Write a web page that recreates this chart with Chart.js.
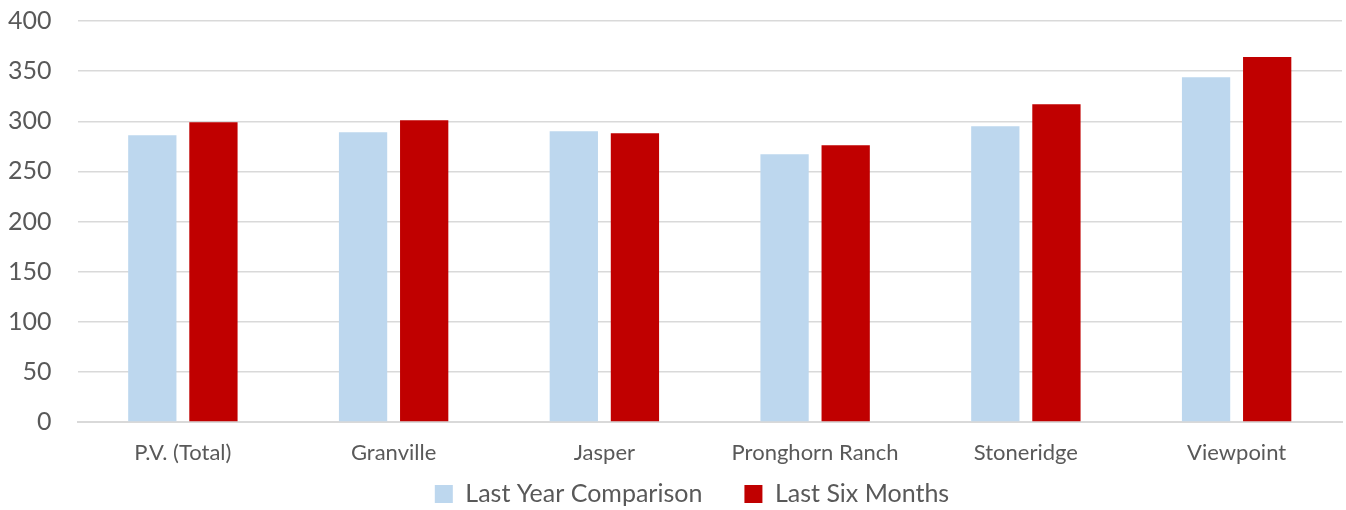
<!DOCTYPE html>
<html>
<head>
<meta charset="utf-8">
<script src="https://cdn.jsdelivr.net/npm/chart.js@4"></script>
<style>
  html, body { margin: 0; padding: 0; background: #fff; }
  #wrap { width: 1346px; height: 510px; }
</style>
</head>
<body>
<div id="wrap"><canvas id="salesChart"></canvas></div>
<script>
const labels = ["P.V. (Total)", "Granville", "Jasper", "Pronghorn Ranch", "Stoneridge", "Viewpoint"];
const lastYear = [286, 289, 290, 267, 295, 344];
const lastSix = [299, 301, 288, 276, 317, 364];

const textColor = "#595959";
const gridColor = "#d9d9d9";

// legend padding is wide for the gap between items, so pull it back up when drawn
const legendShift = {
  id: "legendShift",
  beforeInit(chart) {
    const legend = chart.legend;
    const origDraw = legend.draw;
    legend.draw = function () {
      const c = this.ctx;
      c.save();
      c.translate(17, -45);
      origDraw.apply(this, arguments);
      c.restore();
    };
  },
};

var ctx = document.getElementById("salesChart");
var salesChart = new Chart(ctx, {
  type: "bar",
  data: {
    labels: labels,
    datasets: [
      {
        label: "Last Year Comparison",
        data: lastYear,
        backgroundColor: "#bdd7ee",
        categoryPercentage: 0.58,
        barPercentage: 0.79,
      },
      {
        label: "Last Six Months",
        data: lastSix,
        backgroundColor: "#c00000",
        categoryPercentage: 0.58,
        barPercentage: 0.79,
      },
    ],
  },
  plugins: [legendShift],
  options: {
    responsive: true,
    maintainAspectRatio: false,
    animation: false,
    layout: { padding: { left: 8, right: 4, top: 21, bottom: -51.4 } },
    plugins: {
      legend: {
        position: "bottom",
        labels: {
          color: textColor,
          font: { family: "Lato", size: 25 },
          boxWidth: 18,
          boxHeight: 18,
          padding: 42,
        },
      },
      tooltip: { enabled: false },
    },
    scales: {
      x: {
        grid: { display: false, drawTicks: false },
        border: { color: gridColor, width: 2 },
        ticks: { color: textColor, font: { family: "Lato", size: 22 }, padding: 18 },
      },
      y: {
        min: 0,
        max: 400,
        grid: { color: gridColor, lineWidth: 1.5, drawTicks: true, tickLength: 26, tickColor: "rgba(0,0,0,0)" },
        border: { display: false },
        ticks: { stepSize: 50, color: textColor, font: { family: "Lato", size: 25 }, padding: 0 },
      },
    },
  },
});
</script>
</body>
</html>
